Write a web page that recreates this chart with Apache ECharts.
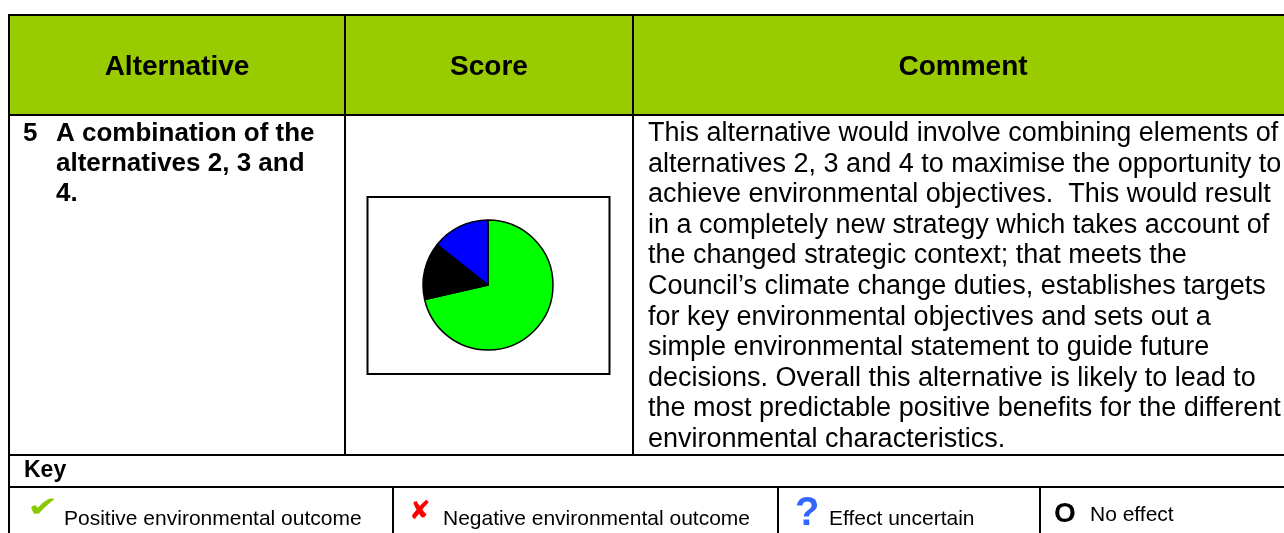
<!DOCTYPE html>
<html><head><meta charset="utf-8">
<script src="https://cdn.jsdelivr.net/npm/echarts@6/dist/echarts.min.js"></script>
<style>html,body{margin:0;padding:0;background:#fff}#c{width:1284px;height:533px}</style>
</head><body><div id="c"></div>
<script>
// ---- data ----
const headerLabels = ['Alternative', 'Score', 'Comment'];
const alternativeNumber = '5';
const alternativeLines = ['A combination of the', 'alternatives 2, 3 and', '4.'];
const commentLines = [
  'This alternative would involve combining elements of',
  'alternatives 2, 3 and 4 to maximise the opportunity to',
  'achieve environmental objectives.  This would result',
  'in a completely new strategy which takes account of',
  'the changed strategic context; that meets the',
  'Council\u2019s climate change duties, establishes targets',
  'for key environmental objectives and sets out a',
  'simple environmental statement to guide future',
  'decisions. Overall this alternative is likely to lead to',
  'the most predictable positive benefits for the different',
  'environmental characteristics.'
];
const keyTitle = 'Key';
const keySymbols = ['\u2714', '\u2718', '?', 'O'];
const keyLabels = ['Positive environmental outcome', 'Negative environmental outcome', 'Effect uncertain', 'No effect'];
const scoreCategories = ['Positive environmental outcome', 'Negative environmental outcome', 'Effect uncertain'];
const scoreValues = [5, 1, 1];
const scoreColors = ['#00FF00', '#000000', '#0000FF'];

// ---- layout ----
const FONT = '"Liberation Sans", Arial, sans-serif';
const els = [];
function ln(x1, y1, x2, y2, w) {
  els.push({type: 'line', silent: true, z: 10, shape: {x1, y1, x2, y2}, style: {stroke: '#000', lineWidth: w || 2}});
}
function tx(x, baseline, str, fs, weight, color, align, family, sx) {
  els.push({type: 'text', silent: true, z: 11, x: x, y: baseline - 0.35 * fs, scaleX: sx || 1,
    style: {text: str, fill: color || '#000', font: (weight || 'normal') + ' ' + fs + 'px ' + (family || FONT),
      textAlign: align || 'left', textVerticalAlign: 'middle', align: align || 'left', verticalAlign: 'middle'}});
}
// header fill
els.push({type: 'rect', silent: true, z: 1, shape: {x: 9, y: 15, width: 1290, height: 100}, style: {fill: '#99CC00'}});
// pie frame
els.push({type: 'rect', silent: true, z: 5, shape: {x: 367.5, y: 197, width: 242, height: 177}, style: {fill: 'none', stroke: '#000', lineWidth: 2}});
// grid lines
ln(8, 15, 1300, 15);
ln(9, 14, 9, 540);
ln(8, 115, 1300, 115);
ln(345, 14, 345, 455);
ln(633, 14, 633, 455);
ln(8, 455, 1300, 455);
ln(8, 487, 1300, 487);
ln(393, 487, 393, 540);
ln(778, 487, 778, 540);
ln(1040, 487, 1040, 540);
// header text
const headerX = [177, 489, 963];
headerLabels.forEach((h, i) => tx(headerX[i], 77, h, 28, 'bold', '#000', 'center'));
// alternative column
tx(23, 143, alternativeNumber, 26, 'bold');
alternativeLines.forEach((s, i) => tx(56, 143 + i * 30, s, 26, 'bold'));
// comment column
commentLines.forEach((s, i) => tx(648, 143 + i * 30.6, s, 27, 'normal'));
// key
tx(24, 479, keyTitle, 23, 'bold');
tx(27, 519, keySymbols[0], 28, 'normal', '#8CC800', 'left', '"DejaVu Sans"', 1.35);
tx(64, 527, keyLabels[0], 21, 'normal');
tx(409, 521, keySymbols[1], 26, 'bold', '#FF0000', 'left', '"DejaVu Sans"');
tx(443, 527, keyLabels[1], 21, 'normal');
tx(795, 528, keySymbols[2], 40, 'bold', '#3366FF');
tx(829, 527, keyLabels[2], 21, 'normal');
tx(1054, 524, keySymbols[3], 28, 'bold');
tx(1090, 523, keyLabels[3], 21, 'normal');

const chart = echarts.init(document.getElementById('c'), null, {renderer: 'canvas'});
chart.setOption({
  animation: false,
  backgroundColor: '#fff',
  graphic: {elements: els},
  series: [{
    type: 'pie',
    center: [488, 285],
    radius: 65,
    startAngle: 90,
    clockwise: true,
    silent: true,
    label: {show: false},
    labelLine: {show: false},
    itemStyle: {borderColor: '#000', borderWidth: 1.5},
    data: scoreCategories.map((n, i) => ({name: n, value: scoreValues[i], itemStyle: {color: scoreColors[i]}}))
  }]
});
</script></body></html>
